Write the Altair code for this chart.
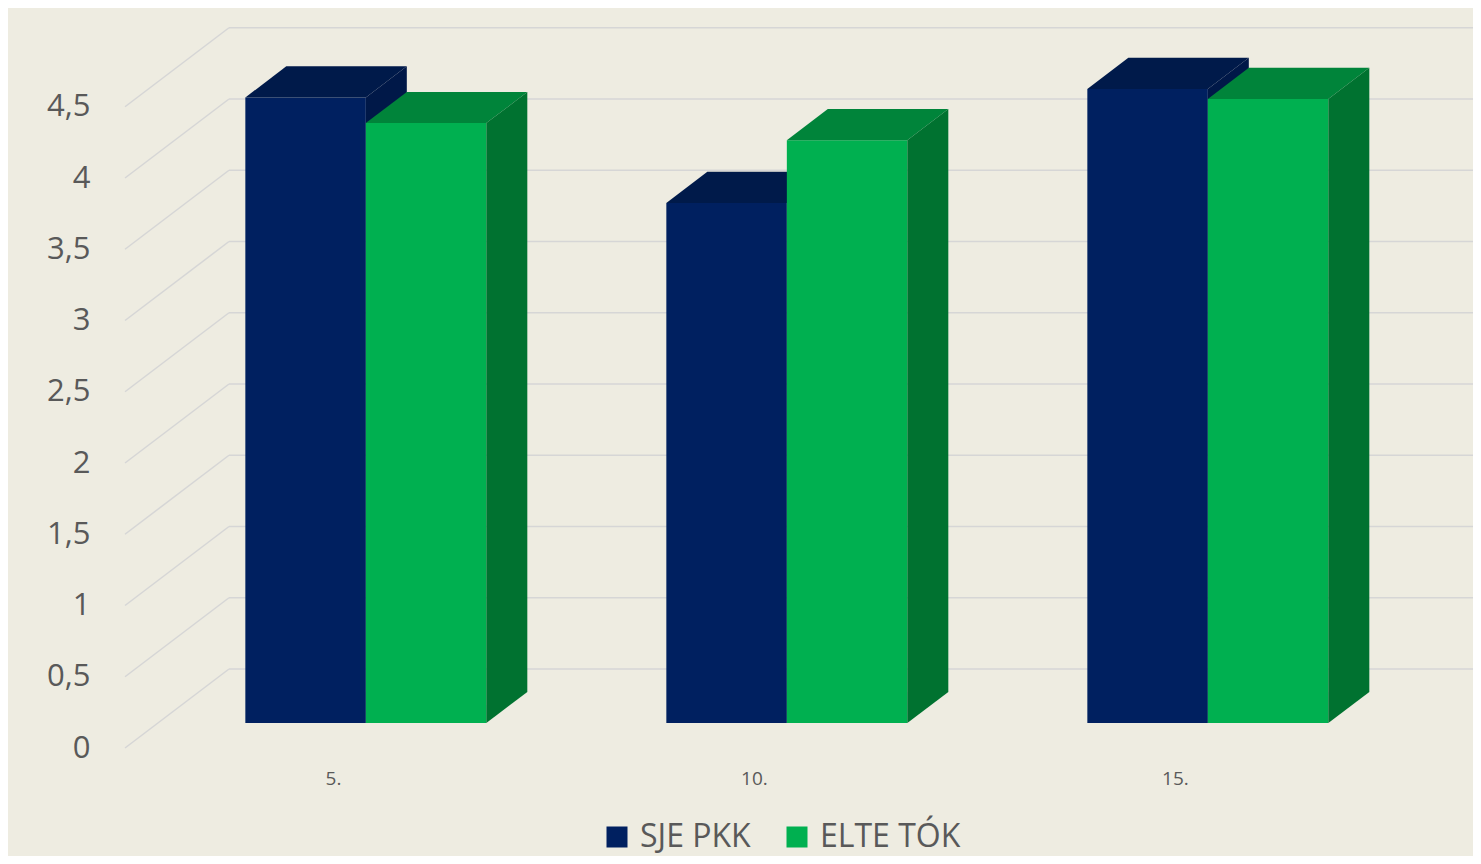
import altair as alt
import pandas as pd

# ---- data ----
categories = ["5.", "10.", "15."]
series = ["SJE PKK", "ELTE TÓK"]
sje_pkk = [4.39, 3.65, 4.45]
elte_tok = [4.21, 4.09, 4.38]
y_ticks = [0, 0.5, 1, 1.5, 2, 2.5, 3, 3.5, 4, 4.5]

front_colors = ["#002060", "#00B050"]
top_colors = ["#001A4A", "#00843A"]
side_colors = ["#001848", "#007230"]

# ---- 3D projection / layout constants ----
PX_CAT = 421.0          # pixels per category step
PX_VAL = 142.5          # pixels per value unit
DX = 104.0 / PX_CAT     # full depth, x shift (category units)
DY = 79.0 / PX_VAL      # full depth, y shift (value units)
Z0, Z1 = 0.316, 0.71    # bar front / back depth
BW = 120.5 / PX_CAT     # bar width
W, H = 1348, 727
X_MIN = -0.494
X_MAX = X_MIN + W / PX_CAT
Y_MAX = H / PX_VAL

values = [sje_pkk, elte_tok]

front_rows, top_rows, side_rows = [], [], []
for s, name in enumerate(series):
    for i, cat in enumerate(categories):
        v = values[s][i]
        xl = i + Z0 * DX + (s - 1) * BW
        xr = xl + BW
        bar = f"{s}-{i}"
        front_rows.append(dict(series=name, x=xl, x2=xr, y=Z0 * DY, y2=v + Z0 * DY, s=s))
        top_rows += [
            dict(bar=bar, s=s, fill=top_colors[s], y=v + Z0 * DY, x=xl, x2=xr),
            dict(bar=bar, s=s, fill=top_colors[s], y=v + Z1 * DY,
                 x=xl + (Z1 - Z0) * DX, x2=xr + (Z1 - Z0) * DX),
        ]
        side_rows += [
            dict(bar=bar, s=s, fill=side_colors[s], x=xr, y=Z0 * DY, y2=v + Z0 * DY),
            dict(bar=bar, s=s, fill=side_colors[s], x=xr + (Z1 - Z0) * DX,
                 y=Z1 * DY, y2=v + Z1 * DY),
        ]

front_df = pd.DataFrame(front_rows)
top_df = pd.DataFrame(top_rows)
side_df = pd.DataFrame(side_rows)

wall_x = X_MIN
grid_df = pd.DataFrame(
    [dict(x=wall_x, x2=wall_x + DX, y=t, y2=t + DY) for t in y_ticks]
    + [dict(x=wall_x + DX, x2=X_MAX, y=t + DY, y2=t + DY) for t in y_ticks]
)

label_font = "Open Sans"
txt_color = "#595959"
cat_expr = "[" + ",".join(f"'{c}'" for c in categories) + "][datum.value]"

x_axis = alt.Axis(values=[0, 1, 2], labelExpr=cat_expr, domain=False, ticks=False,
                  grid=False, labelFontSize=19, labelColor=txt_color, labelFont=label_font,
                  labelPadding=21, title=None)
y_axis = alt.Axis(values=y_ticks, format="~g", labelExpr="replace(datum.label, '.', ',')",
                  domain=False, ticks=False, grid=False, labelFontSize=31,
                  labelColor=txt_color, labelFont=label_font, labelPadding=35, title=None)

xs = alt.Scale(domain=[X_MIN, X_MAX], nice=False, zero=False)
ys = alt.Scale(domain=[0, Y_MAX], nice=False, zero=False)


def X(f="x"):
    return alt.X(f"{f}:Q", scale=xs, axis=x_axis)


def Y(f="y"):
    return alt.Y(f"{f}:Q", scale=ys, axis=y_axis)


grid = alt.Chart(grid_df).mark_rule(color="#D6D6D6", strokeWidth=1.5).encode(
    x=X(), x2="x2:Q", y=Y(), y2="y2:Q"
)

color_enc = alt.Color(
    "series:N",
    scale=alt.Scale(domain=series, range=front_colors),
    legend=alt.Legend(orient="none", legendX=476, legendY=800, direction="horizontal",
                      symbolType="square", symbolSize=441, symbolStrokeWidth=0,
                      labelFontSize=32, labelFont=label_font, labelColor=txt_color,
                      title=None, columnPadding=30, labelOffset=7),
)

layers = [grid]
for s in range(len(series)):
    f = alt.Chart(front_df[front_df.s == s]).mark_rect().encode(
        x=X(), x2="x2:Q", y=Y(), y2="y2:Q", color=color_enc
    )
    t = alt.Chart(top_df[top_df.s == s]).mark_area(orient="horizontal").encode(
        y=Y(), x=X(), x2="x2:Q", detail="bar:N", color=alt.Color("fill:N", scale=None)
    )
    sd = alt.Chart(side_df[side_df.s == s]).mark_area(orient="vertical").encode(
        x=X(), y=Y(), y2="y2:Q", detail="bar:N", color=alt.Color("fill:N", scale=None)
    )
    layers += [f, t, sd]

chart = alt.layer(*layers).properties(
    width=W, height=H,
    autosize=alt.AutoSizeParams(type="none"),
    padding={"left": 117, "top": 13, "right": 0, "bottom": 108},
    background="#EEECE1",
).configure_view(stroke=None)

chart.save("out.html", embed_options={"renderer": "svg", "actions": False})
